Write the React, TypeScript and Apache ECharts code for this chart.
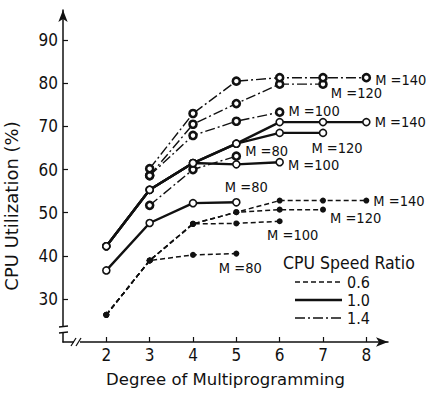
import React, { useEffect, useRef } from 'react';
import * as echarts from 'echarts';

// Degree of multiprogramming (x)
const degree = [2, 3, 4, 5, 6, 7, 8];

// CPU speed ratio 0.6 (dashed)
const r06M80 = [26.3, 38.9, 40.2, 40.5, null, null, null];
const r06M100 = [26.3, 38.9, 47.4, 47.5, 48.0, null, null];
const r06M120 = [26.3, 38.9, 47.4, 50.1, 50.7, 50.7, null];
const r06M140 = [26.3, 38.9, 47.4, 50.1, 52.8, 52.8, 52.8];

// CPU speed ratio 1.0 (solid)
const r10M80 = [36.6, 47.6, 52.2, 52.4, null, null, null];
const r10M100 = [42.2, 55.3, 61.5, 61.2, 61.7, null, null];
const r10M120 = [42.2, 55.3, 61.5, 66.0, 68.5, 68.5, null];
const r10M140 = [42.2, 55.3, 61.5, 66.0, 71.0, 71.0, 71.0];

// CPU speed ratio 1.4 (dash-dot)
const r14M80 = [null, 51.7, 60.0, 63.1, null, null, null];
const r14M100 = [null, 58.6, 67.9, 71.2, 73.3, null, null];
const r14M120 = [null, 58.6, 70.5, 75.3, 79.8, 79.8, null];
const r14M140 = [null, 60.2, 73.0, 80.5, 81.3, 81.3, 81.3];

const yTickValues = [30, 40, 50, 60, 70, 80, 90];
const xTickValues = [2, 3, 4, 5, 6, 7, 8];
const legendRatios = ['0.6', '1.0', '1.4'];

const COND = "'DejaVu Sans Condensed', 'Liberation Sans', sans-serif";
const WIDE = "'DejaVu Sans', 'Liberation Sans', sans-serif";
const INK = '#111';

const ratioStyle: Record<string, any> = {
  '0.6': {
    lineStyle: { color: INK, width: 1.5, type: [5, 3] },
    symbol: 'circle',
    symbolSize: 6,
    itemStyle: { color: INK, borderColor: INK, borderWidth: 0 },
  },
  '1.0': {
    lineStyle: { color: INK, width: 2.4, type: 'solid' },
    symbol: 'circle',
    symbolSize: 7,
    itemStyle: { color: '#fff', borderColor: INK, borderWidth: 1.6 },
  },
  '1.4': {
    lineStyle: { color: INK, width: 1.4, type: [10, 3, 2, 3] },
    symbol: 'circle',
    symbolSize: 7,
    itemStyle: { color: '#fff', borderColor: INK, borderWidth: 2.6 },
  },
};

const seriesDefs = [
  { ratio: '0.6', m: 80, values: r06M80, pos: 'bottom', offset: [4, 0] },
  { ratio: '0.6', m: 100, values: r06M100, pos: 'bottom', offset: [13, -1] },
  { ratio: '0.6', m: 120, values: r06M120, pos: 'right', offset: [0, 8] },
  { ratio: '0.6', m: 140, values: r06M140, pos: 'right', offset: [0, 0] },
  { ratio: '1.0', m: 80, values: r10M80, pos: 'top', offset: [10, 0] },
  { ratio: '1.0', m: 100, values: r10M100, pos: 'right', offset: [0, 3] },
  { ratio: '1.0', m: 120, values: r10M120, pos: 'bottom', offset: [14, -1] },
  { ratio: '1.0', m: 140, values: r10M140, pos: 'right', offset: [0, 0] },
  { ratio: '1.4', m: 80, values: r14M80, pos: 'right', offset: [0, -5] },
  { ratio: '1.4', m: 100, values: r14M100, pos: 'right', offset: [0, -1] },
  { ratio: '1.4', m: 120, values: r14M120, pos: 'right', offset: [-1, 9] },
  { ratio: '1.4', m: 140, values: r14M140, pos: 'right', offset: [0, 2] },
];

function buildSeries() {
  return seriesDefs.map((def) => {
    const pts: any[] = [];
    degree.forEach((d, i) => {
      const v = def.values[i];
      if (v !== null && v !== undefined) pts.push([d, v]);
    });
    const data = pts.map((p, i) =>
      i === pts.length - 1
        ? {
            value: p,
            label: {
              show: true,
              formatter: 'M =' + def.m,
              position: def.pos,
              offset: def.offset,
              distance: 4,
              color: INK,
              fontFamily: COND,
              fontSize: 14.5,
            },
          }
        : { value: p }
    );
    const st = ratioStyle[def.ratio];
    return {
      type: 'line',
      name: def.ratio + ' M=' + def.m,
      data,
      showAllSymbol: true,
      ...st,
      z: def.ratio === '1.0' ? 3 : 2,
    };
  });
}

function legendGraphics() {
  const els: any[] = [];
  els.push({
    type: 'text',
    left: 283,
    top: 254,
    style: { text: 'CPU Speed Ratio', font: `17.5px ${COND}`, fill: INK },
  });
  const rowsY = [282, 300, 318];
  legendRatios.forEach((r, i) => {
    const st = ratioStyle[r].lineStyle;
    els.push({
      type: 'line',
      shape: { x1: 295, y1: rowsY[i], x2: 342, y2: rowsY[i] },
      style: {
        stroke: INK,
        lineWidth: st.width,
        lineDash: Array.isArray(st.type) ? st.type : null,
      },
    });
    els.push({
      type: 'text',
      x: 347,
      y: rowsY[i],
      style: { text: r, font: `16px ${COND}`, fill: INK, verticalAlign: 'middle' },
    });
  });
  // axis break marks
  els.push({ type: 'rect', shape: { x: 60, y: 327, width: 7, height: 5 }, style: { fill: '#fff' }, z: 100 });
  els.push({ type: 'line', shape: { x1: 59, y1: 327, x2: 68, y2: 326 }, style: { stroke: INK, lineWidth: 1.3 }, z: 101 });
  els.push({ type: 'line', shape: { x1: 59, y1: 333, x2: 68, y2: 332 }, style: { stroke: INK, lineWidth: 1.3 }, z: 101 });
  els.push({ type: 'rect', shape: { x: 74, y: 339, width: 6, height: 6 }, style: { fill: '#fff' }, z: 100 });
  els.push({ type: 'line', shape: { x1: 71, y1: 346, x2: 76, y2: 338 }, style: { stroke: INK, lineWidth: 1.3 }, z: 101 });
  els.push({ type: 'line', shape: { x1: 76, y1: 346, x2: 81, y2: 338 }, style: { stroke: INK, lineWidth: 1.3 }, z: 101 });
  return els;
}

export default function App() {
  const ref = useRef<HTMLDivElement>(null);
  useEffect(() => {
    if (!ref.current) return;
    const chart = echarts.init(ref.current, null, { renderer: 'svg' });
    chart.setOption({
      animation: false,
      backgroundColor: '#fff',
      grid: { left: 63, right: 38, top: 10, bottom: 51, outerBoundsMode: 'none', containLabel: false },
      xAxis: {
        type: 'value',
        min: 1,
        max: 8.5,
        interval: 1,
        name: 'Degree of Multiprogramming',
        nameLocation: 'middle',
        nameGap: 29,
        nameTextStyle: { fontFamily: WIDE, fontSize: 16.5, color: INK },
        axisLine: { lineStyle: { color: INK, width: 1.5 }, symbol: ['none', 'arrow'], symbolSize: [7, 12] },
        axisTick: { inside: true, length: 5, lineStyle: { color: INK, width: 1.2 }, customValues: xTickValues },
        axisLabel: { customValues: xTickValues, fontFamily: COND, fontSize: 17, color: INK, margin: 4 },
        splitLine: { show: false },
      },
      yAxis: {
        type: 'value',
        min: 20,
        max: 97,
        interval: 10,
        name: 'CPU Utilization (%)',
        nameLocation: 'middle',
        nameGap: 43,
        nameTextStyle: { fontFamily: WIDE, fontSize: 18, color: INK, padding: [0, 60, 0, 0] },
        axisLine: { lineStyle: { color: INK, width: 1.5 }, symbol: ['none', 'arrow'], symbolSize: [7, 12] },
        axisTick: { inside: true, length: 5, lineStyle: { color: INK, width: 1.2 }, customValues: yTickValues },
        axisLabel: { customValues: yTickValues, fontFamily: COND, fontSize: 17, color: INK, margin: 5 },
        splitLine: { show: false },
      },
      graphic: legendGraphics(),
      series: buildSeries(),
    });
    return () => chart.dispose();
  }, []);
  return <div ref={ref} style={{ position: 'fixed', left: 0, top: 0, width: 426, height: 393 }} />;
}
